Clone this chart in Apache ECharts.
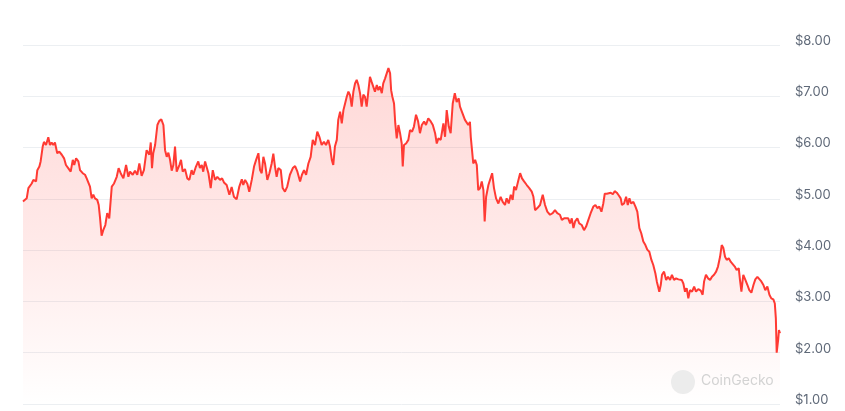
<!DOCTYPE html>
<html>
<head>
<meta charset="utf-8">
<script src="https://cdn.jsdelivr.net/npm/echarts@6/dist/echarts.min.js"></script>
<style>
html,body{margin:0;padding:0;background:#fff;}
#chart{width:845px;height:411px;}
</style>
</head>
<body>
<div id="chart"></div>
<script>
// x position of each sample, in days across the one-year window
const days = [
  0,1.8,2.6,4.2,5.0,6.3,6.9,7.9,8.5,9.5,10.1,11.1,12.2,13.0,13.8,14.6,15.4,16.5,17.5,18.7,
  19.8,20.7,21.8,23.0,24.0,24.7,25.6,26.7,27.5,28.8,29.9,30.7,31.5,32.3,33.1,33.9,34.7,35.8,36.5,37.1,
  37.9,38.7,39.7,40.6,41.6,42.8,43.9,45.2,46.1,47.1,48.4,49.7,50.8,
  51.6,52.9,54.0,55.1,56.1,57.2,58.3,59.6,60.9,61.6,62.2,62.8,63.7,64.8,65.7,66.7,67.7,68.5,69.3,70.1,
  70.9,71.7,72.5,73.3,74.1,75.4,76.2,77.0,78.1,79.2,80.2,81.3,82.1,83.4,84.5,85.3,86.2,86.9,87.8,88.6,
  89.4,90.5,91.5,92.6,93.7,95.0,96.0,96.9,98.2,99.5,100.6,101.7,103.0,104.3,
  105.5,106.2,107.1,108.2,109.1,110.3,111.4,112.4,113.5,114.3,115.1,115.9,116.7,117.8,118.8,119.9,120.7,121.5,122.3,123.1,
  124.3,125.2,126.3,127.4,128.7,130.1,131.2,132.3,133.6,134.5,135.5,136.5,137.6,138.7,139.7,140.8,141.9,142.9,144.0,145.1,
  146.1,147.2,148.0,148.9,149.6,150.4,151.3,152.0,152.9,153.7,154.5,155.3,156.1,156.9,
  157.7,158.5,159.3,160.1,160.9,161.7,162.5,163.3,164.1,164.9,165.7,166.5,167.3,168.1,168.9,169.7,170.6,171.3,172.1,173.0,
  173.7,174.6,175.4,176.2,177.0,177.5,178.1,178.9,179.5,180.2,181.0,181.8,182.6,183.1,183.7,184.7,185.8,186.6,187.6,188.5,
  189.5,190.5,191.4,192.3,193.4,194.3,195.4,196.6,197.6,198.7,199.5,200.3,201.4,202.7,203.5,204.3,205.3,206.2,207.2,208.2,
  209.1,210.1,210.7,
  213.1,214.7,215.5,215.9,216.5,217.1,218.0,218.8,219.5,220.4,221.2,222.0,222.6,223.3,224.4,225.2,226.2,227.1,228.1,229.2,
  230.3,231.3,232.4,233.2,234.2,235.2,236.1,236.8,237.7,238.7,239.7,240.6,241.6,242.9,244.1,245.3,246.1,246.9,248.0,249.3,
  250.6,251.7,252.8,254.1,255.4,256.5,257.6,258.9,259.8,260.9,261.8,262.9,
  263.8,264.6,265.4,266.2,267.3,268.2,269.4,270.5,271.5,272.6,273.7,275.0,276.0,276.9,277.9,278.9,279.8,280.5,281.5,282.4,
  283.4,284.4,285.3,286.3,287.2,288.2,288.8,289.8,290.8,291.6,292.4,293.2,294.3,295.3,296.2,297.2,298.1,299.1,300.1,301.0,
  302.0,303.0,303.9,304.9,305.6,306.2,306.8,307.5,308.1,309.1,310.1,311.0,312.0,312.9,313.9,314.9,316.0,
  316.8,317.6,318.4,319.2,320.0,320.8,321.6,322.6,323.6,324.5,325.6,326.8,327.7,328.4,329.3,330.3,331.3,332.2,333.2,334.2,
  335.1,336.1,336.9,337.7,338.5,339.3,340.3,341.3,342.2,343.2,344.1,345.1,345.7,346.4,347.3,348.3,349.3,350.2,351.2,352.2,
  353.1,354.1,355.0,356.0,357.0,357.9,358.9,359.9,360.8,361.8,362.5,363.0,363.4,364.1,364.5,365.0
];

// price in USD at each sample
const prices = [
  4.95,5.01,5.21,5.30,5.37,5.34,5.56,5.63,5.73,6.02,6.11,6.05,6.20,6.05,6.10,6.05,6.10,5.89,5.92,5.86,
  5.79,5.66,5.60,5.53,5.76,5.66,5.79,5.73,5.56,5.50,5.47,5.40,5.42,5.24,5.01,5.08,5.01,4.98,4.88,4.65,
  4.28,4.39,4.49,4.72,4.62,5.24,5.30,5.43,5.60,5.50,5.40,5.66,5.43,
  5.53,5.47,5.55,5.47,5.69,5.45,5.56,5.95,5.86,6.10,5.60,5.89,6.05,6.44,6.52,6.55,6.44,5.95,5.82,5.90,
  5.76,5.55,5.66,6.02,5.53,5.66,5.76,5.53,5.58,5.40,5.37,5.56,5.47,5.63,5.73,5.60,5.66,5.53,5.73,5.76,
  5.50,5.21,5.56,5.37,5.43,5.37,5.40,5.32,5.27,5.08,5.23,5.04,4.99,5.24,
  5.38,5.27,5.37,5.29,5.14,5.37,5.63,5.76,5.89,5.56,5.50,5.82,5.69,5.37,5.50,5.69,5.88,5.63,5.43,5.60,
  5.56,5.21,5.14,5.24,5.47,5.60,5.64,5.53,5.34,5.47,5.56,5.47,5.69,5.82,6.15,6.05,6.31,6.21,6.05,6.11,
  6.05,6.15,6.02,5.76,5.66,6.02,6.15,6.54,6.70,6.47,6.73,6.86,6.99,7.09,
  7.02,6.80,7.09,7.25,7.32,7.22,7.06,6.80,7.03,6.99,6.80,7.09,7.38,7.28,7.25,7.09,7.22,7.12,7.19,7.06,
  7.25,7.35,7.32,7.55,7.45,7.12,6.99,6.86,6.47,6.18,6.44,6.28,6.08,5.63,6.05,6.08,6.15,6.34,6.31,6.41,
  6.64,6.51,6.28,6.44,6.51,6.44,6.57,6.51,6.44,6.28,6.08,6.18,6.15,6.47,6.21,6.73,6.41,6.28,6.86,7.06,
  6.89,6.96,6.80,
  6.54,6.44,6.50,6.21,5.95,5.69,5.76,5.66,5.17,5.21,5.34,5.17,4.56,5.04,5.27,5.24,5.50,5.21,5.01,4.91,
  5.04,4.94,4.88,5.01,4.91,5.08,4.98,5.24,5.17,5.34,5.50,5.40,5.34,5.27,5.21,5.14,5.04,4.78,4.82,4.88,
  5.08,4.88,4.75,4.69,4.72,4.78,4.72,4.69,4.59,4.62,4.65,4.62,
  4.52,4.62,4.43,4.56,4.62,4.52,4.49,4.39,4.46,4.59,4.72,4.85,4.88,4.82,4.85,4.75,4.91,5.10,5.10,5.07,
  5.12,5.09,5.15,5.12,5.07,5.01,4.88,4.91,5.04,4.88,5.01,4.91,4.94,4.85,4.75,4.43,4.33,4.17,4.10,4.01,
  3.97,3.81,3.71,3.55,3.39,3.29,3.19,3.32,3.52,3.58,3.42,3.48,3.42,3.52,3.42,3.45,3.43,
  3.45,3.42,3.35,3.19,3.26,3.06,3.22,3.19,3.29,3.19,3.24,3.21,3.13,3.39,3.52,3.45,3.42,3.48,3.52,3.58,
  3.68,3.87,4.10,4.04,3.87,3.81,3.84,3.77,3.79,3.68,3.61,3.65,3.42,3.19,3.52,3.42,3.32,3.22,3.17,3.32,
  3.43,3.48,3.45,3.39,3.32,3.22,3.29,3.13,3.06,3.04,2.96,2.67,2.00,2.25,2.44,2.38
];

const yMin = 1, yMax = 8, yStep = 1;
const watermark = 'CoinGecko';

const chart = echarts.init(document.getElementById('chart'), null, {renderer: 'canvas'});
const n = Math.min(days.length, prices.length);
const seriesData = [];
for (let i = 0; i < n; i++) seriesData.push([days[i], prices[i]]);

chart.setOption({
  animation: false,
  backgroundColor: '#ffffff',
  grid: {left: 23, right: 65, top: 45, bottom: 7, containLabel: false},
  xAxis: {
    type: 'value', min: 0, max: 365, show: false
  },
  yAxis: {
    type: 'value', position: 'right', min: yMin, max: yMax, interval: yStep,
    axisLine: {show: false}, axisTick: {show: false},
    splitLine: {show: true, lineStyle: {color: '#eceff2', width: 1}},
    axisLabel: {
      margin: 15, color: '#5f6978', fontSize: 13, fontFamily: 'Inter, "Noto Sans", sans-serif',
      verticalAlign: 'bottom', lineHeight: 8,
      formatter: v => '$' + v.toFixed(2)
    }
  },
  graphic: [
    {type: 'circle', shape: {cx: 683, cy: 382, r: 12}, style: {fill: '#ececec'}, z: 10},
    {type: 'text', left: 701, top: 374, style: {text: watermark, fill: '#d3d3d3', fontSize: 14, fontFamily: 'Inter, "Noto Sans", sans-serif'}, z: 10}
  ],
  series: [{
    type: 'line',
    data: seriesData,
    showSymbol: false,
    symbol: 'none',
    smooth: false,
    lineStyle: {color: '#ff3a33', width: 2},
    areaStyle: {
      color: new echarts.graphic.LinearGradient(0, 0, 0, 1, [
        {offset: 0, color: 'rgba(255,58,51,0.28)'},
        {offset: 0.5, color: 'rgba(255,58,51,0.16)'},
        {offset: 1, color: 'rgba(255,58,51,0.0)'}
      ])
    }
  }]
});
</script>
</body>
</html>
